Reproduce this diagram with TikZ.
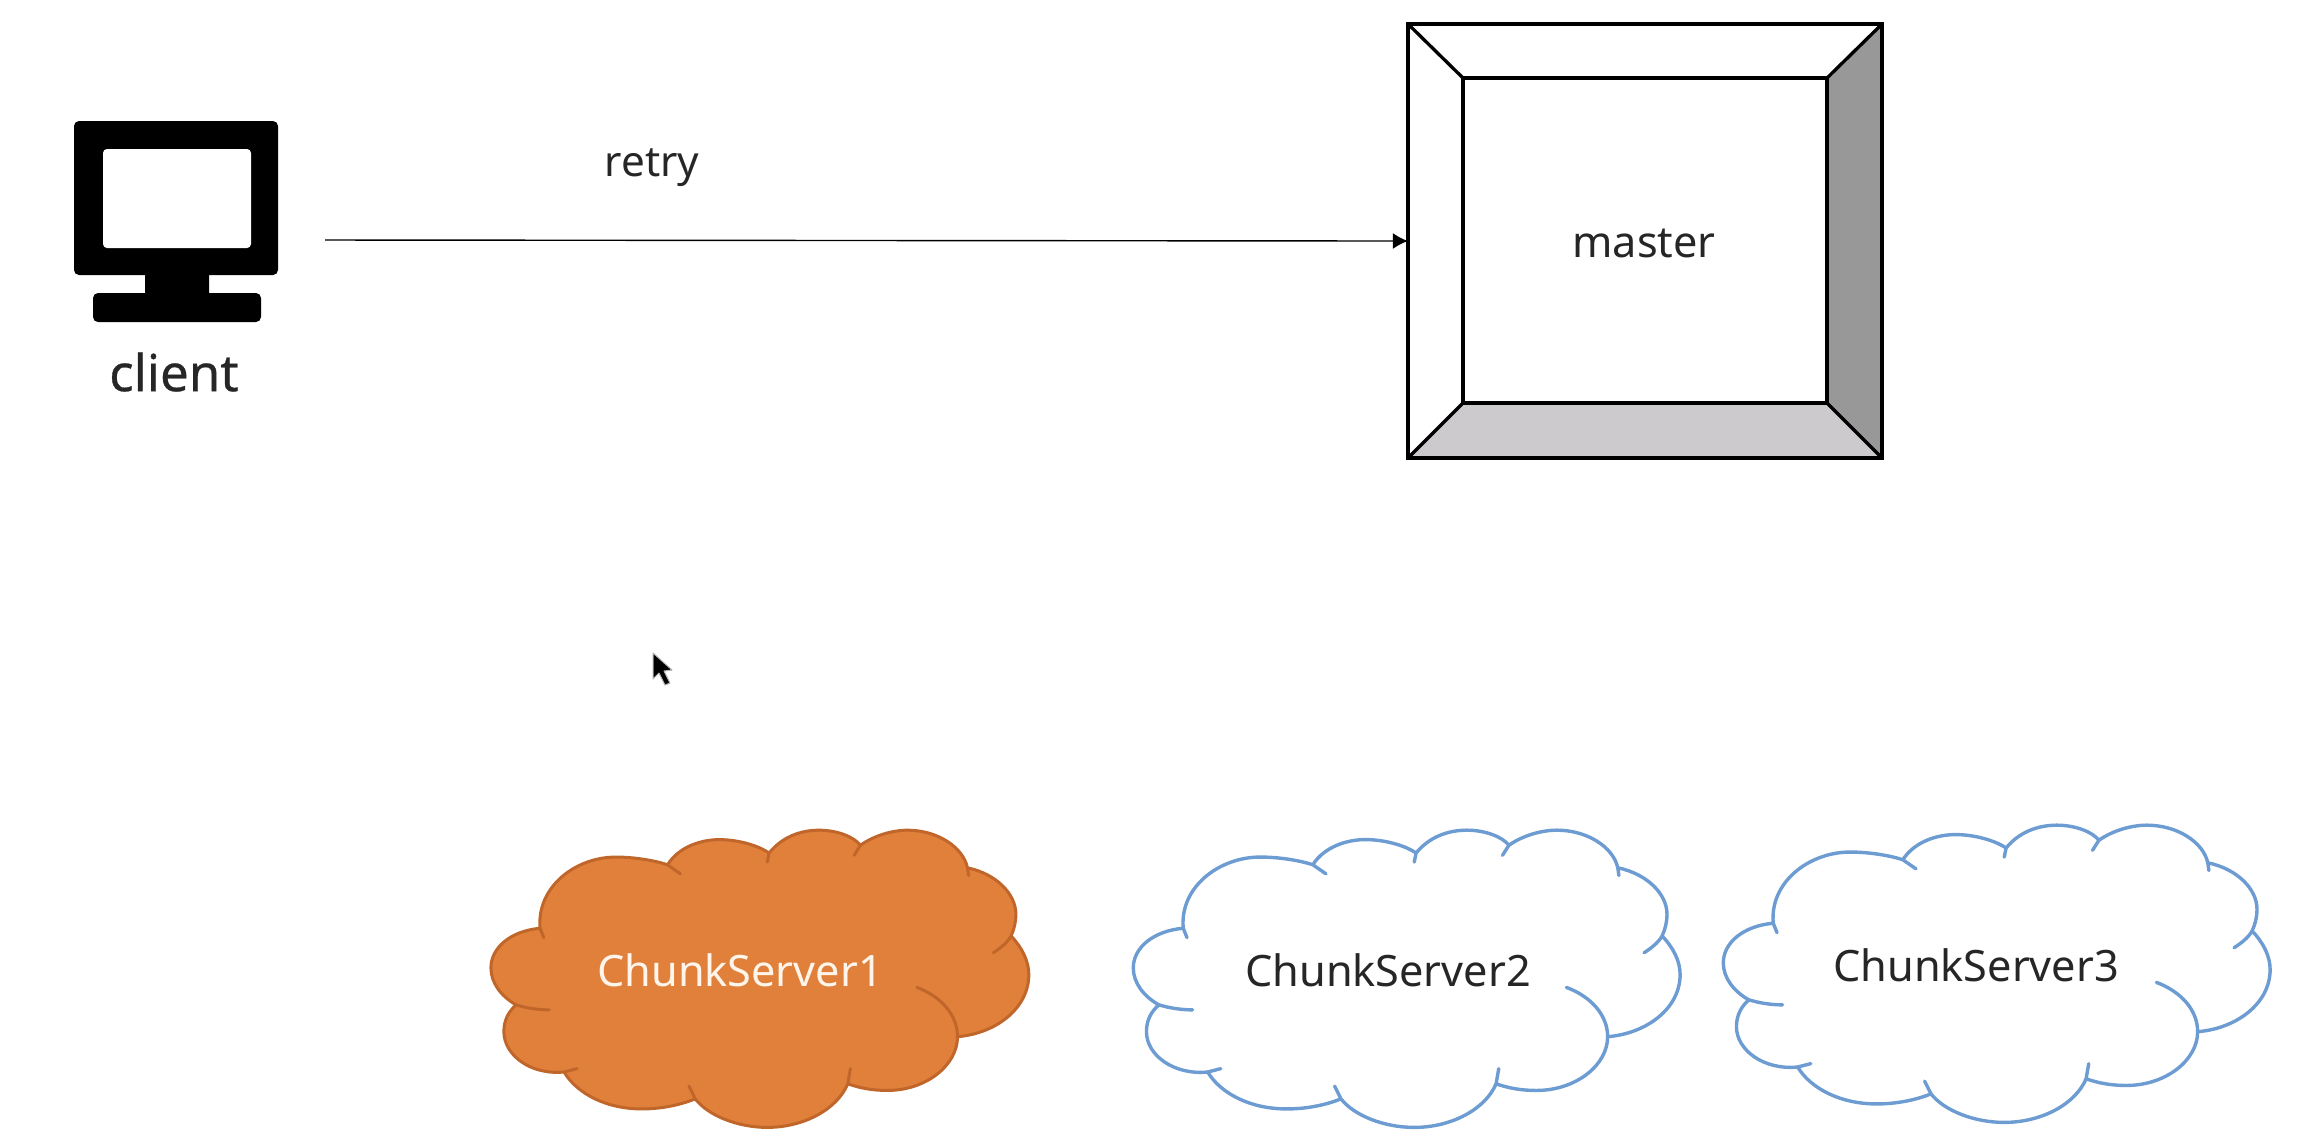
\documentclass[tikz,border=0pt]{standalone}
\usepackage{fontspec}
\setmainfont{Noto Sans}
\newfontfamily\clientfont{Noto Sans}[FakeBold=0.5]
\usetikzlibrary{arrows.meta}
\definecolor{orangefill}{HTML}{E0803A}
\definecolor{orangeline}{HTML}{C0662A}
\definecolor{bluecloud}{HTML}{6C9CD2}
\definecolor{textdark}{HTML}{262626}
\definecolor{bevelright}{HTML}{999899}
\definecolor{bevelbottom}{HTML}{CCCACC}
\newcommand{\cloudpath}{
  (195,352) -- (205,380) -- (195,352)
  .. controls (185,230) and (290,140) .. (400,140)
  .. controls (450,140) and (505,150) .. (540,163)
  -- (575,190) -- (540,163)
  .. controls (570,110) and (630,88) .. (680,88)
  .. controls (730,88) and (785,105) .. (815,128)
  -- (810,155) -- (815,128)
  .. controls (850,80) and (900,60) .. (950,60)
  .. controls (1000,60) and (1045,80) .. (1062,105)
  -- (1045,135) -- (1062,105)
  .. controls (1100,75) and (1150,60) .. (1190,60)
  .. controls (1270,60) and (1340,110) .. (1352,172)
  -- (1355,195) -- (1352,172)
  .. controls (1430,190) and (1483,250) .. (1483,310)
  .. controls (1483,335) and (1478,355) .. (1470,375)
  .. controls (1460,395) and (1440,412) .. (1422,425)
  .. controls (1440,412) and (1460,395) .. (1470,375)
  .. controls (1500,410) and (1518,450) .. (1518,490)
  .. controls (1518,590) and (1430,665) .. (1325,675)
  .. controls (1325,610) and (1280,555) .. (1215,528)
  .. controls (1280,555) and (1325,610) .. (1325,675)
  .. controls (1325,760) and (1240,835) .. (1135,835)
  .. controls (1095,835) and (1060,828) .. (1028,815)
  -- (1035,770) -- (1028,815)
  .. controls (1000,890) and (910,945) .. (810,945)
  .. controls (730,945) and (650,910) .. (615,860)
  -- (598,822) -- (615,860)
  .. controls (570,880) and (520,890) .. (470,890)
  .. controls (375,890) and (295,845) .. (260,780)
  -- (295,770) -- (260,780)
  .. controls (170,790) and (97,730) .. (97,660)
  .. controls (97,625) and (110,600) .. (130,580)
  .. controls (160,590) and (190,595) .. (220,595)
  .. controls (190,595) and (160,590) .. (130,580)
  .. controls (90,555) and (62,515) .. (62,470)
  .. controls (62,410) and (115,360) .. (195,352) -- cycle
}
\tikzset{
  cloudorange/.style={fill=orangefill,draw=orangeline,line width=0.3mm,line join=round},
  cloudblue/.style={fill=white,draw=bluecloud,line width=0.34mm,line join=round},
  dark/.style={text=textdark,font=\fontsize{12.3pt}{15pt}\selectfont,inner sep=0pt},
  bevel/.style={draw=black,line width=0.33mm,line join=miter},
  iconfill/.style={fill=black,rounded corners=0.05cm}
}
\begin{document}
\begin{tikzpicture}[x=0.01cm,y=-0.01cm]
\useasboundingbox (0,0) rectangle (2316,1144);
% client icon
\fill[iconfill] (145,270) rectangle (209,300);
\fill[iconfill] (74,121) rectangle (278,275);
\fill[iconfill] (93,293) rectangle (261,322);
\fill[white,rounded corners=0.04cm] (103,149) rectangle (251,248);
\node[dark,font=\clientfont\fontsize{14.5pt}{16pt}\selectfont] (client) at (174,372) {client};
\coordinate (clientout) at (325,240);
% master
\node[draw=black,line width=0.36mm,fill=white,minimum width=4.74cm,minimum height=4.34cm,inner sep=0pt,outer sep=0pt] (masterbox) at (1645,241) {};
\node[draw=none,minimum width=3.64cm,minimum height=3.25cm,inner sep=0pt,outer sep=0pt] (masterinner) at (1645,240.5) {};
\fill[bevelright] (masterbox.north east) -- (masterinner.north east) -- (masterinner.south east) -- (masterbox.south east) -- cycle;
\fill[bevelbottom] (masterbox.south west) -- (masterinner.south west) -- (masterinner.south east) -- (masterbox.south east) -- cycle;
\draw[bevel] (masterinner.north west) rectangle (masterinner.south east);
\draw[bevel] (masterbox.north west) -- (masterinner.north west);
\draw[bevel] (masterbox.north east) -- (masterinner.north east);
\draw[bevel] (masterbox.south west) -- (masterinner.south west);
\draw[bevel] (masterbox.south east) -- (masterinner.south east);
\draw[line width=0.36mm] (masterbox.north west) rectangle (masterbox.south east);
\node[dark] (master) at (1644,243) {master};
% arrow
\draw[line width=0.4pt,-{Latex[length=0.15cm,width=0.16cm]}] (clientout) -- (masterbox.west);
\node[dark,font=\fontsize{12pt}{14pt}\selectfont] (retry) at (652,168) {retry};
% clouds
\begin{scope}[shift={(468,810)},x=0.0037cm,y=-0.00335cm]
\draw[cloudorange] \cloudpath;
\end{scope}
\begin{scope}[shift={(1110,810)},x=0.00376cm,y=-0.00335cm]
\draw[cloudblue] \cloudpath;
\end{scope}
\begin{scope}[shift={(1700,805)},x=0.00376cm,y=-0.00335cm]
\draw[cloudblue] \cloudpath;
\end{scope}
\node[dark,text=white!92!orange] (cs1) at (740,970) {ChunkServer1};
\node[dark] (cs2) at (1388,970) {ChunkServer2};
\node[dark] (cs3) at (1976,965) {ChunkServer3};
% mouse pointer
\fill[black,draw=white!70!black,line width=0.1mm,line join=round] (653,653) -- (672,670) -- (664,671) -- (670,683) -- (665,685) -- (659,673) -- (653,679) -- cycle;
\end{tikzpicture}
\end{document}
